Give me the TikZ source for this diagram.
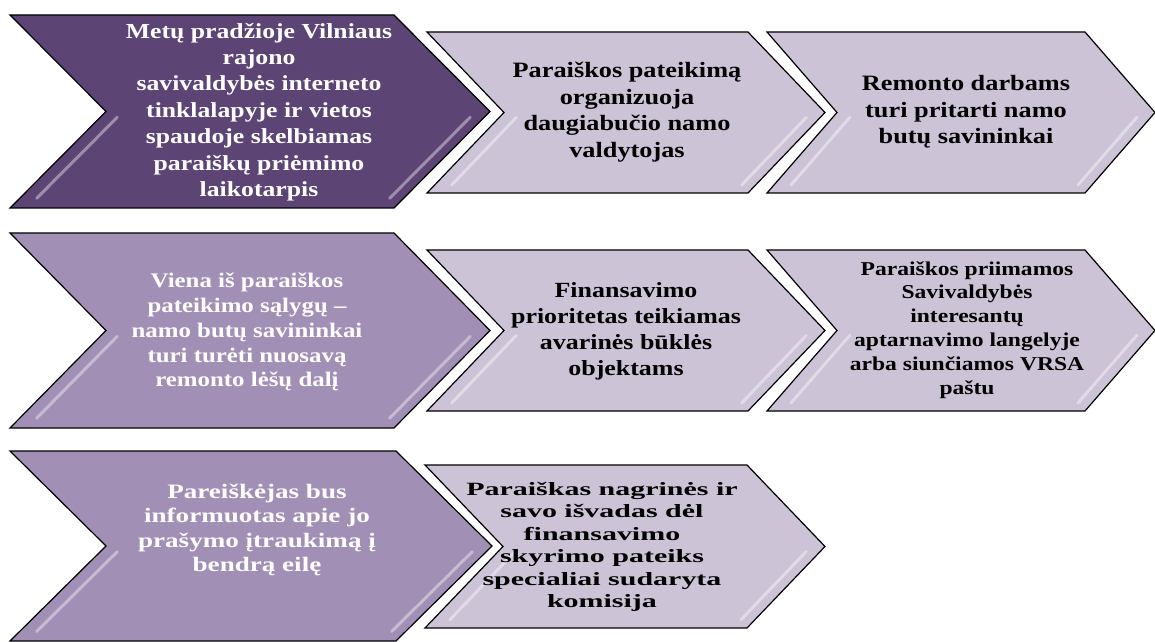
\documentclass[tikz,border=0pt]{standalone}
\usepackage{fontspec}
\setmainfont{Liberation Serif}
\newfontfamily\chevfont[FakeStretch=1.2]{Liberation Serif}
\newfontfamily\chevwide[FakeStretch=1.32]{Liberation Serif}
\newfontfamily\chevwider[FakeStretch=1.6]{Liberation Serif}
\usetikzlibrary{calc}

\definecolor{darkplum}{RGB}{92,68,116}
\definecolor{midplum}{RGB}{161,143,181}
\definecolor{lightplum}{RGB}{204,195,215}

% chevron: style, left x, right x, top y, bottom y, depth
\newcommand{\chevron}[6]{%
  \draw[#1] (#2,#4) -- ({#3-#6},#4) -- (#3,{(#4+#5)/2}) -- ({#3-#6},#5)
    -- (#2,#5) -- ({#2+#6},{(#4+#5)/2}) -- cycle;
  \draw[gloss] ($({#2+#6+17},{(#4+#5)/2})!0.06!({#2+17},#5)$)
    -- ($({#2+#6+17},{(#4+#5)/2})!0.9!({#2+17},#5)$);
  \draw[gloss] ($({#3-14},{(#4+#5)/2})!0.06!({#3-#6-14},#5)$)
    -- ($({#3-14},{(#4+#5)/2})!0.9!({#3-#6-14},#5)$);
}

\begin{document}
\begin{tikzpicture}[
x=1bp, y=-1bp,
chev/.style={draw=black, line width=1.2pt, line join=miter},
darkchev/.style={chev, fill=darkplum},
midchev/.style={chev, fill=midplum},
lightchev/.style={chev, fill=lightplum},
gloss/.style={white, line width=3pt, opacity=0.4, line cap=round},
chevtext/.style={align=center, inner sep=0pt},
whitetext/.style={chevtext, text=white},
blacktext/.style={chevtext, text=black}
]
\useasboundingbox (0,0) rectangle (1155,642);

% ---------- ROW 1 ----------
\chevron{darkchev}{10}{490}{15}{208}{96}
\chevron{lightchev}{427}{825}{32}{193}{77}
\chevron{lightchev}{767}{1155}{32}{193}{70}

% ---------- ROW 2 ----------
\chevron{midchev}{10}{490}{233}{428}{96}
\chevron{lightchev}{427}{825}{250}{411}{77}
\chevron{lightchev}{767}{1155}{250}{411}{70}

% ---------- ROW 3 ----------
\chevron{midchev}{10}{492}{451}{641}{96}
\chevron{lightchev}{425}{825}{465}{628}{78}

% ---------- TEXTS ----------
\node[whitetext, font=\chevfont\bfseries\fontsize{21.5}{26.5}\selectfont] (announce) at (259,112)
{Metų pradžioje Vilniaus\\
rajono\\
savivaldybės interneto\\
tinklalapyje ir vietos\\
spaudoje skelbiamas\\
paraiškų priėmimo\\
laikotarpis};

\node[blacktext, font=\chevfont\bfseries\fontsize{22}{26.7}\selectfont] (organise) at (627,112)
{Paraiškos pateikimą\\
organizuoja\\
daugiabučio namo\\
valdytojas};

\node[blacktext, font=\chevfont\bfseries\fontsize{22}{26.5}\selectfont] (approve) at (966,112)
{Remonto darbams\\
turi pritarti namo\\
butų savininkai};

\node[whitetext, font=\chevfont\bfseries\fontsize{20.8}{25}\selectfont] (condition) at (247,332)
{Viena iš paraiškos\\
pateikimo sąlygų –\\
namo butų savininkai\\
turi turėti nuosavą\\
remonto lėšų dalį};

\node[blacktext, font=\chevfont\bfseries\fontsize{21.7}{26}\selectfont] (priority) at (626,331)
{Finansavimo\\
prioritetas teikiamas\\
avarinės būklės\\
objektams};

\node[blacktext, font=\chevfont\bfseries\fontsize{19.7}{24}\selectfont] (submit) at (967,330)
{Paraiškos priimamos\\
Savivaldybės\\
interesantų\\
aptarnavimo langelyje\\
arba siunčiamos VRSA\\
paštu};

\node[whitetext, font=\chevwide\bfseries\fontsize{20.6}{24.7}\selectfont] (inform) at (257,530)
{Pareiškėjas bus\\
informuotas apie jo\\
prašymo įtraukimą į\\
bendrą eilę};

\node[blacktext, font=\chevwider\bfseries\fontsize{18.8}{22.5}\selectfont] (commission) at (602,547)
{Paraiškas nagrinės ir\\
savo išvadas dėl\\
finansavimo\\
skyrimo pateiks\\
specialiai sudaryta\\
komisija};

\end{tikzpicture}
\end{document}
